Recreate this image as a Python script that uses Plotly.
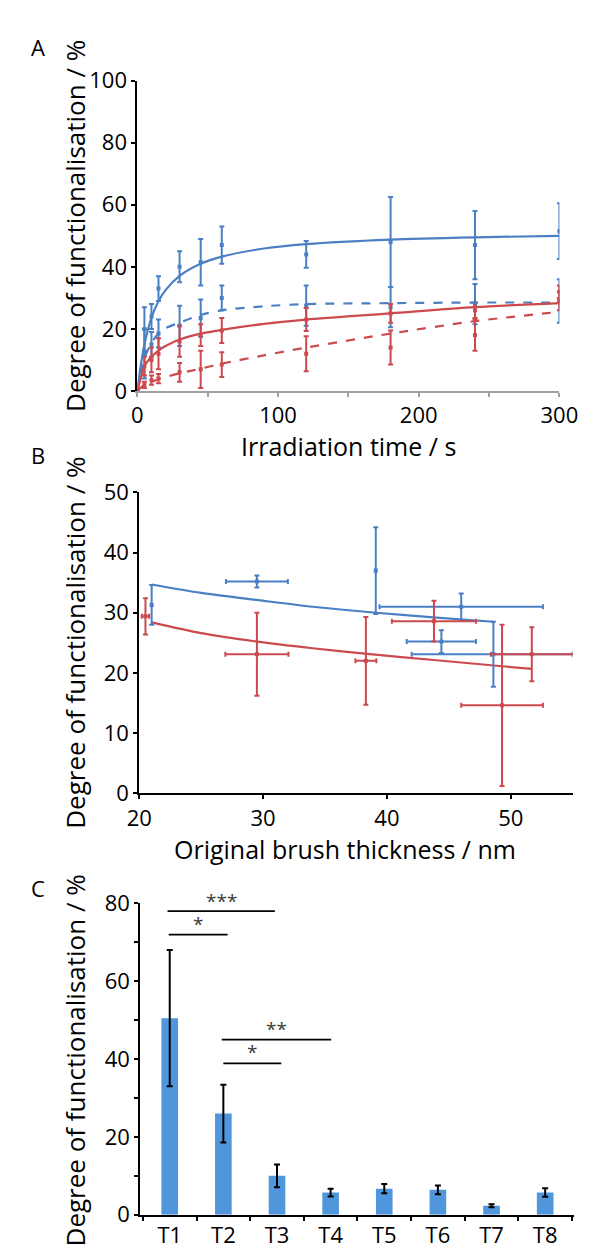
import plotly.graph_objects as go

W, H = 595, 1252
BLUE = "#4a7fc4"
RED = "#cc4a4d"
BAR = "#5096dc"
FONT = "Open Sans"

# ---------------- Panel A data ----------------
t_pts = [0, 5, 10, 15, 30, 45, 60, 120, 180, 240, 300]
blue_solid_y = [0, 20, 24, 33, 40, 41.5, 47, 44, 48, 47, 51.5]
blue_solid_err = [0, 7, 4, 4, 5, 7.5, 6, 4.3, 14.5, 11, 9]
blue_dash_y = [0, 12, 15, 18.5, 21, 23.5, 30, 27.5, 27, 28, 29]
blue_dash_err = [0, 8, 4, 4.5, 6.5, 6, 4, 6.5, 6.5, 6.5, 7]
red_solid_y = [0, 8, 10, 12, 16, 18, 19.5, 23, 25, 26, 32]
red_solid_err = [0, 3, 4, 5, 5, 3.5, 4, 3.7, 3, 2.5, 2]
red_dash_y = [0, 2, 3.5, 4, 6, 7, 8.5, 12, 14, 18, 29]
red_dash_err = [0, 1, 1.5, 1.5, 3, 6, 4, 5.6, 5.5, 5, 3]

t_fit = [0, 2, 5, 10, 15, 20, 30, 45, 60, 90, 120, 180, 240, 300]
blue_solid_fit = [0, 7, 15, 23.6, 28.9, 32.5, 37.1, 41, 43.3, 45.9, 47.3, 48.75, 49.5, 50]
blue_dash_fit = [0, 5, 10.5, 15.5, 18.5, 20.2, 22, 24.5, 26, 27.3, 28, 28.3, 28.5, 28.5]
red_solid_fit = [0, 3.5, 8, 11, 13, 14.5, 16.6, 18.5, 19.7, 21.6, 23, 25, 27, 28.3]
red_dash_fit = [0, 0.9, 2, 3, 3.8, 4.5, 5.7, 7.2, 8.8, 11.5, 14, 18.5, 22.5, 25.5]

# ---------------- Panel B data ----------------
b_blue_x = [21.0, 29.5, 39.1, 46.0, 44.4, 48.6]
b_blue_y = [31.3, 35.2, 37.0, 31.0, 25.2, 23.1]
b_blue_xerr = [0, 2.5, 0, 6.6, 2.8, 6.6]
b_blue_yerr = [3.3, 1.0, 7.2, 2.2, 1.9, 5.4]
b_red_x = [20.5, 29.5, 38.3, 43.8, 49.3, 51.7]
b_red_y = [29.4, 23.1, 22.0, 28.6, 14.6, 23.1]
b_red_xerr = [0.3, 2.55, 0.85, 3.4, 3.3, 3.3]
b_red_yerr = [3.0, 6.9, 7.3, 3.4, 13.4, 4.5]

b_blue_fit_x = [21, 25, 29.6, 34, 39.1, 44, 48.6]
b_blue_fit_y = [34.7, 33.3, 32.1, 31.0, 30.0, 29.2, 28.5]
b_red_fit_x = [21, 25, 29.5, 34, 38.2, 44, 49.3, 51.7]
b_red_fit_y = [28.4, 26.6, 25.2, 24.1, 23.2, 22.1, 21.1, 20.65]

# ---------------- Panel C data ----------------
c_cats = ["T1", "T2", "T3", "T4", "T5", "T6", "T7", "T8"]
c_vals = [50.5, 26.0, 10.0, 5.7, 6.7, 6.4, 2.3, 5.7]
c_errs = [17.5, 7.4, 2.9, 1.0, 1.2, 1.1, 0.4, 1.1]
sig_x0 = [-0.04, -0.02, 0.97, 1.0]
sig_x1 = [1.96, 1.08, 3.01, 2.08]
sig_y = [78, 72, 45, 38.9]
sig_label = ["***", "*", "**", "*"]
sig_label_y = [80.6, 74.8, 47.8, 41.9]


def px_x(p):
    return p / W


def px_y(p):
    return 1 - p / H


C_DOM = [px_y(1220), px_y(901)]
C_RANGE = [0, 80]
C_XDOM = [px_x(126), px_x(584)]
C_XRANGE = [-0.55, 7.53]


def c_paper_y(v):
    return C_DOM[0] + (v - C_RANGE[0]) / (C_RANGE[1] - C_RANGE[0]) * (C_DOM[1] - C_DOM[0])


def c_paper_x(v):
    return C_XDOM[0] + (v - C_XRANGE[0]) / (C_XRANGE[1] - C_XRANGE[0]) * (C_XDOM[1] - C_XDOM[0])


fig = go.Figure()


def pts(x, y, err, color, xa, ya, xerr=None, size=4):
    d = dict(x=x, y=y, mode="markers", xaxis=xa, yaxis=ya,
             marker=dict(color=color, size=size, symbol="square"),
             error_y=dict(type="data", array=err, color=color, thickness=2, width=2.5),
             showlegend=False, hoverinfo="skip")
    if xerr is not None:
        d["error_x"] = dict(type="data", array=xerr, color=color, thickness=2, width=2.5)
    fig.add_trace(go.Scatter(**d))


def line(x, y, color, xa, ya, dash="solid", shape="spline"):
    fig.add_trace(go.Scatter(x=x, y=y, mode="lines", xaxis=xa, yaxis=ya,
                             line=dict(color=color, width=2.2, dash=dash, shape=shape, smoothing=0.8),
                             showlegend=False, hoverinfo="skip"))


# Panel A
pts(t_pts, blue_solid_y, blue_solid_err, BLUE, "x", "y")
pts(t_pts, blue_dash_y, blue_dash_err, BLUE, "x", "y")
pts(t_pts, red_solid_y, red_solid_err, RED, "x", "y")
pts(t_pts, red_dash_y, red_dash_err, RED, "x", "y")
line(t_fit, blue_solid_fit, BLUE, "x", "y")
line(t_fit, blue_dash_fit, BLUE, "x", "y", dash="dash")
line(t_fit, red_solid_fit, RED, "x", "y")
line(t_fit, red_dash_fit, RED, "x", "y", dash="dash")

# Panel B
line(b_blue_fit_x, b_blue_fit_y, BLUE, "x2", "y2")
line(b_red_fit_x, b_red_fit_y, RED, "x2", "y2")
pts(b_blue_x, b_blue_y, b_blue_yerr, BLUE, "x2", "y2", xerr=b_blue_xerr)
pts(b_red_x, b_red_y, b_red_yerr, RED, "x2", "y2", xerr=b_red_xerr)

# Panel C
fig.add_trace(go.Bar(x=c_cats, y=c_vals, xaxis="x3", yaxis="y3", width=0.31,
                     marker=dict(color=BAR, line=dict(width=0)),
                     error_y=dict(type="data", array=c_errs, color="black", thickness=2, width=3),
                     showlegend=False, hoverinfo="skip"))

shapes = []
annotations = []
for x0, x1, yv in zip(sig_x0, sig_x1, sig_y):
    shapes.append(dict(type="line", xref="x3", yref="y3", x0=x0, x1=x1, y0=yv, y1=yv,
                       line=dict(color="black", width=1.8)))
for x0, x1, lab, ly in zip(sig_x0, sig_x1, sig_label, sig_label_y):
    annotations.append(dict(xref="paper", yref="paper", x=c_paper_x((x0 + x1) / 2), y=c_paper_y(ly),
                            text=lab, showarrow=False,
                            font=dict(size=19, color="#3a3a3a", family=FONT),
                            xanchor="center", yanchor="middle"))

# Panel letters
for lab, py in [("A", 24), ("B", 442), ("C", 885)]:
    annotations.append(dict(xref="paper", yref="paper", x=px_x(18), y=px_y(py), text=lab,
                            showarrow=False, font=dict(size=22, color="black", family=FONT),
                            xanchor="center", yanchor="middle"))

# Y titles
for py in [207, 634, 1062]:
    annotations.append(dict(xref="paper", yref="paper", x=px_x(57), y=px_y(py),
                            text="Degree of functionalisation / %", textangle=-90,
                            showarrow=False, font=dict(size=26, color="black", family=FONT),
                            xanchor="center", yanchor="middle"))
# X titles
annotations.append(dict(xref="paper", yref="paper", x=px_x(346), y=px_y(432),
                        text="Irradiation time / s", showarrow=False,
                        font=dict(size=25, color="black", family=FONT),
                        xanchor="center", yanchor="middle"))
annotations.append(dict(xref="paper", yref="paper", x=px_x(342), y=px_y(845),
                        text="Original brush thickness / nm", showarrow=False,
                        font=dict(size=25, color="black", family=FONT),
                        xanchor="center", yanchor="middle"))

tickfont = dict(size=22, color="black", family=FONT)
ax_common = dict(showgrid=False, zeroline=False, showline=True, linewidth=2,
                 ticks="outside", ticklen=4, tickwidth=1.5, tickfont=tickfont)

fig.update_layout(
    width=W, height=H, margin=dict(l=0, r=0, t=0, b=0),
    paper_bgcolor="white", plot_bgcolor="white",
    font=dict(family=FONT, color="black"),
    shapes=shapes, annotations=annotations,
    xaxis=dict(**{**ax_common, "linecolor": "#a0a0a0", "tickcolor": "#a0a0a0"},
               domain=[px_x(123), px_x(569)], anchor="y", range=[0, 300],
               tickvals=[0, 100, 200, 300],
               minor=dict(tickvals=[50, 150, 250], ticks="outside", ticklen=4, tickcolor="#a0a0a0", tickwidth=1.5)),
    yaxis=dict(**ax_common, linecolor="black", tickcolor="black",
               domain=[px_y(376), px_y(58)], anchor="x", range=[0, 100],
               tickvals=[0, 20, 40, 60, 80, 100]),
    xaxis2=dict(**ax_common, linecolor="black", tickcolor="black",
                domain=[px_x(125), px_x(583)], anchor="y2", range=[20, 55],
                tickvals=[20, 30, 40, 50]),
    yaxis2=dict(**ax_common, linecolor="black", tickcolor="black",
                domain=[px_y(788), px_y(480)], anchor="x2", range=[0, 50],
                tickvals=[0, 10, 20, 30, 40, 50]),
    xaxis3=dict(**ax_common, linecolor="black", tickcolor="black",
                domain=C_XDOM, anchor="y3", range=C_XRANGE,
                type="category", tickson="boundaries"),
    yaxis3=dict(**ax_common, linecolor="black", tickcolor="black",
                domain=C_DOM, anchor="x3", range=C_RANGE,
                tickvals=[0, 20, 40, 60, 80],
                minor=dict(tickvals=[10, 30, 50, 70], ticks="outside", ticklen=4, tickcolor="black", tickwidth=1.5)),
)

fig.write_html("out.html")
